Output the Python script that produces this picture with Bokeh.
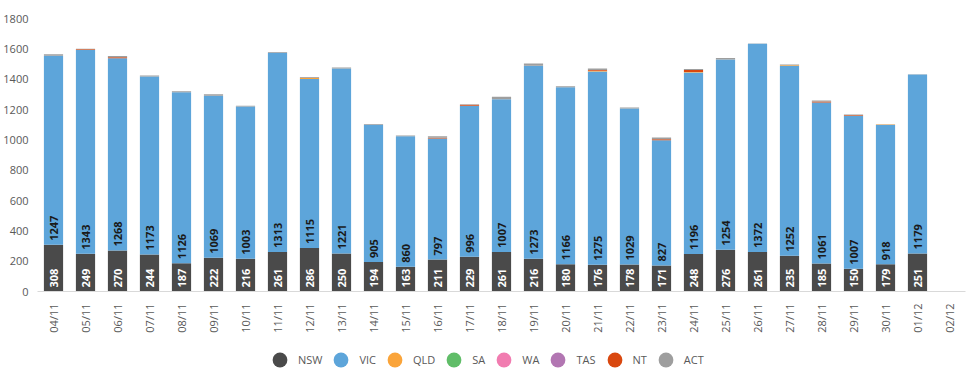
import math
from bokeh.plotting import figure
from bokeh.layouts import column
from bokeh.models import ColumnDataSource, Legend, LegendItem, FactorRange, FixedTicker, Range1d
from bokeh.core.properties import value
from bokeh.embed import file_html
from bokeh.resources import INLINE

dates = ["04/11", "05/11", "06/11", "07/11", "08/11", "09/11", "10/11", "11/11", "12/11",
         "13/11", "14/11", "15/11", "16/11", "17/11", "18/11", "19/11", "20/11", "21/11",
         "22/11", "23/11", "24/11", "25/11", "26/11", "27/11", "28/11", "29/11", "30/11",
         "01/12", "02/12"]
nsw = [308, 249, 270, 244, 187, 222, 216, 261, 286, 250, 194, 163, 211, 229, 261, 216, 180,
       176, 178, 171, 248, 276, 261, 235, 185, 150, 179, 251, 0]
vic = [1247, 1343, 1268, 1173, 1126, 1069, 1003, 1313, 1115, 1221, 905, 860, 797, 996, 1007,
       1273, 1166, 1275, 1029, 827, 1196, 1254, 1372, 1252, 1061, 1007, 918, 1179, 0]
qld = [0, 0, 0, 0, 0, 0, 0, 0, 6, 0, 0, 0, 0, 0, 0, 0, 0, 4, 0, 0, 4, 0, 0, 4, 0, 0, 4, 0, 0]
sa = [0] * 29
wa = [0] * 29
tas = [0] * 29
nt = [0, 6, 6, 0, 0, 0, 0, 0, 3, 0, 0, 0, 6, 7, 0, 0, 0, 6, 0, 6, 12, 0, 0, 0, 6, 5, 0, 0, 0]
act = [9, 3, 8, 8, 8, 10, 5, 5, 5, 6, 6, 5, 10, 2, 16, 14, 8, 10, 7, 12, 7, 9, 2, 5, 7, 5, 1, 2, 0]
y_ticks = [0, 200, 400, 600, 800, 1000, 1200, 1400, 1600, 1800]

series = ["NSW", "VIC", "QLD", "SA", "WA", "TAS", "NT", "ACT"]
colors = ["#4a4a4a", "#5da5da", "#faa43a", "#60bd68", "#f17cb0", "#b276b2", "#d9480f", "#9e9e9e"]

data = dict(date=dates, NSW=nsw, VIC=vic, QLD=qld, SA=sa, WA=wa, TAS=tas, NT=nt, ACT=act)
data["nsw_lbl"] = [str(v) if v > 0 else "" for v in nsw]
data["vic_lbl"] = [str(v) if v > 0 else "" for v in vic]
data["zero"] = [0] * len(dates)
src = ColumnDataSource(data)

FONT = "Open Sans"

p = figure(x_range=FactorRange(*dates), y_range=(0, 1800),
           frame_width=928, frame_height=273,
           min_border_top=18, min_border_right=4, min_border_left=0, min_border_bottom=45,
           output_backend="svg", toolbar_location=None)

p.vbar_stack(series, x="date", width=0.6, color=colors, line_color=None, source=src)

p.text(x="date", y="zero", text="nsw_lbl", angle=math.pi / 2, text_align="left",
       text_baseline="middle", y_offset=-4, text_color="white",
       text_font=value(FONT), text_font_style="bold", text_font_size="11px", source=src)
p.text(x="date", y="NSW", text="vic_lbl", angle=math.pi / 2, text_align="left",
       text_baseline="middle", y_offset=-4, text_color="#1a1a1a",
       text_font=value(FONT), text_font_style="bold", text_font_size="11px", source=src)

p.xgrid.grid_line_color = None
p.ygrid.grid_line_color = None
p.outline_line_color = None

p.yaxis.ticker = FixedTicker(ticks=y_ticks)
p.yaxis.axis_line_color = None
p.yaxis.major_tick_line_color = None
p.yaxis.minor_tick_line_color = None
p.yaxis.major_label_standoff = 3
p.yaxis.major_label_text_font = FONT
p.yaxis.major_label_text_font_size = "11px"
p.yaxis.major_label_text_color = "#595959"

p.xaxis.axis_line_color = "#d9d9d9"
p.xaxis.major_tick_line_color = None
p.xaxis.minor_tick_line_color = None
p.xaxis.major_label_orientation = math.pi / 2
p.xaxis.major_label_standoff = 6
p.xaxis.major_label_text_font = FONT
p.xaxis.major_label_text_font_size = "11px"
p.xaxis.major_label_text_color = "#595959"

# legend strip (separate small figure below the chart); its swatch renderers sit
# outside the strip's visible range so only the legend shows them
lg = figure(width=961, height=38, min_border=0, x_axis_type=None, y_axis_type=None,
            x_range=Range1d(1, 2), y_range=Range1d(1, 2),
            output_backend="svg", toolbar_location=None)
lg.grid.grid_line_color = None
lg.outline_line_color = None
items = []
for name, c in zip(series, colors):
    r = lg.scatter(x=[-10], y=[-10], marker="circle", size=15, fill_color=c, line_color=None)
    items.append(LegendItem(label=name, renderers=[r]))
legend = Legend(items=items, orientation="horizontal", location=(224, -4),
                glyph_width=37, glyph_height=37, label_standoff=0, spacing=0, label_width=0,
                padding=0, margin=0, border_line_color=None, background_fill_alpha=0,
                label_text_font=FONT, label_text_font_size="11px", label_text_color="#595959")
lg.add_layout(legend, "center")

open("out.html", "w").write(file_html(column(p, lg, spacing=0), INLINE))
